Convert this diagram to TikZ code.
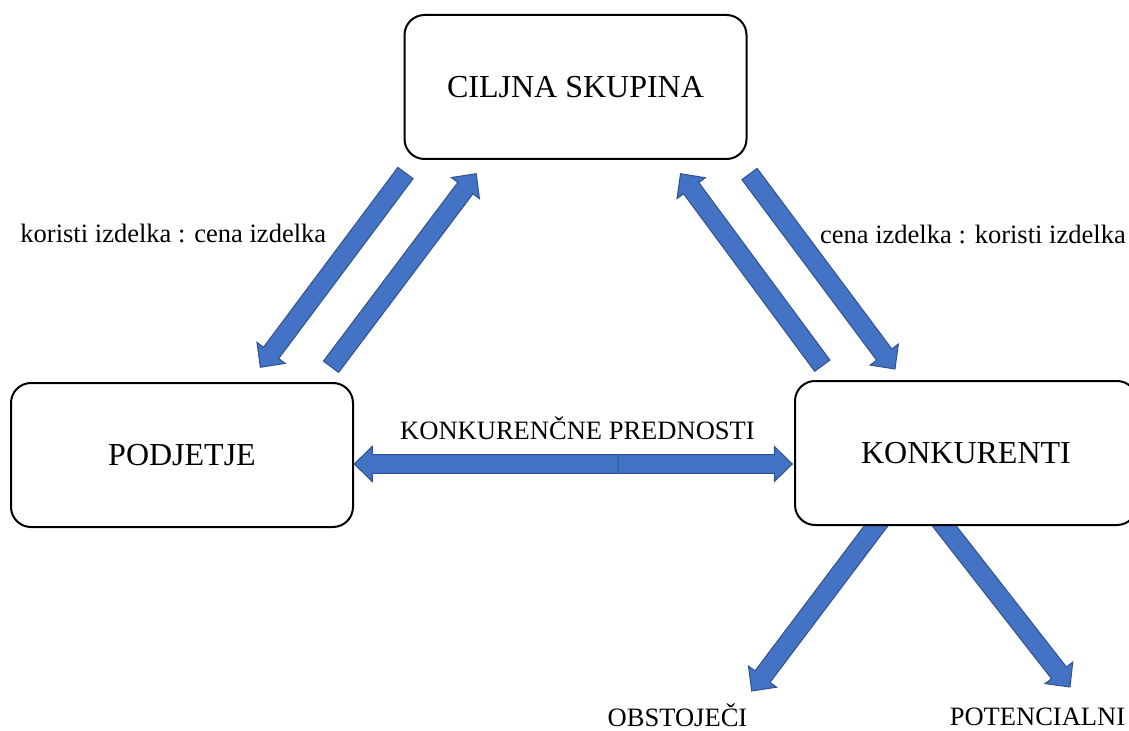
\documentclass[tikz,border=0pt]{standalone}
\usepackage{fontspec}
\setmainfont{Liberation Serif}
\usetikzlibrary{positioning}
\usetikzlibrary{calc}
\usetikzlibrary{backgrounds}
\definecolor{arrowblue}{RGB}{68,114,196}
\definecolor{arrowedge}{RGB}{47,82,143}
\newcommand{\shaftw}{7.1pt}
\newcommand{\headw}{13.2pt}
\newcommand{\headlen}{13.5pt}
% block arrow from #1 (tail) to #2 (tip)
\newcommand{\blockarrow}[2]{%
    \coordinate (hb) at ($(#2)!\headlen!(#1)$);
    \filldraw[blockarr] ($(#1)!\shaftw!90:(#2)$) -- ($(hb)!\shaftw!-90:(#1)$) -- ($(hb)!\headw!-90:(#1)$)
        -- (#2) -- ($(hb)!\headw!90:(#1)$) -- ($(hb)!\shaftw!90:(#1)$) -- ($(#1)!\shaftw!-90:(#2)$) -- cycle;}

\begin{document}
\begin{tikzpicture}[x=0.75pt, y=-0.75pt,
    box/.style={draw, line width=1.5pt, rounded corners=15pt, fill=white, minimum width=256.5pt, minimum height=108pt, font=\fontsize{24}{28}\selectfont},
    lbl/.style={anchor=base, inner sep=0pt, font=\fontsize{19.9}{24}\selectfont},
    blockarr/.style={fill=arrowblue, draw=arrowedge, line width=0.75pt, line join=miter}]
    \useasboundingbox (0,0) rectangle (1129,731);

    \node[box] (cilj) at (575.5, 87) {CILJNA SKUPINA};
    \node[box] (podj) at (182, 455) {PODJETJE};
    \node[box] (konk) at (966, 453) {KONKURENTI};

    \node[lbl] (lkor) at (173.3, 242.7) {koristi izdelka : cena izdelka};
    \node[lbl] (lcen) at (972.9, 243.3) {cena izdelka : koristi izdelka};
    \node[lbl] (lpred) at (577.5, 439) {KONKURENČNE PREDNOSTI};
    \node[lbl] (lobs) at (677.5, 726.5) {OBSTOJEČI};
    \node[lbl] (lpot) at (1037.5, 725) {POTENCIALNI};

    \coordinate (a1) at ($(cilj.south west)+(2,13)$);
    \coordinate (a2) at ($(podj.north east)+(-93.7,-14.7)$);
    \coordinate (b1) at ($(podj.north east)+(-23,-15.2)$);
    \coordinate (b2) at ($(cilj.south west)+(72.7,13.7)$);
    \coordinate (c1) at ($(konk.north west)+(28.3,-14.3)$);
    \coordinate (c2) at ($(cilj.south east)+(-67,13.7)$);
    \coordinate (d1) at ($(cilj.south east)+(2,14)$);
    \coordinate (d2) at ($(konk.north west)+(101,-11)$);
    \coordinate (e1) at ($(podj.east)+(264,9)$);
    \coordinate (e2) at ($(podj.east)+(0.3,9)$);
    \coordinate (f1) at ($(podj.east)+(234,9)$);
    \coordinate (f2) at ($(konk.west)+(-1.7,11)$);
    \coordinate (g1) at ($(konk.south)+(-81,-12)$);
    \coordinate (g2) at ($(konk.south)+(-214.3,165)$);
    \coordinate (h1) at ($(konk.south)+(-31,-12)$);
    \coordinate (h2) at ($(konk.south)+(104,161)$);

    \begin{scope}[on background layer]
        \blockarrow{a1}{a2}
        \blockarrow{b1}{b2}
        \blockarrow{c1}{c2}
        \blockarrow{d1}{d2}
        % competitive advantages
        \blockarrow{f1}{f2}
        \blockarrow{e1}{e2}
        % existing / potential
        \blockarrow{g1}{g2}
        \blockarrow{h1}{h2}
    \end{scope}
\end{tikzpicture}
\end{document}
